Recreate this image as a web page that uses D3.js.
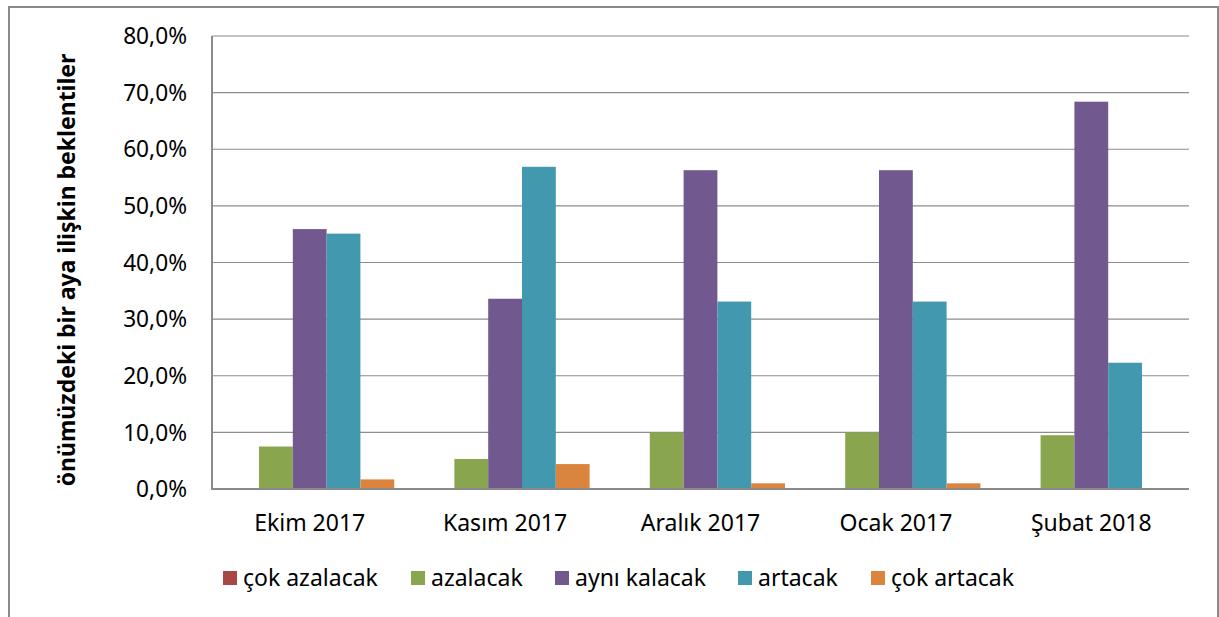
<!DOCTYPE html>
<html>
<head>
<meta charset="utf-8">
<script src="https://cdn.jsdelivr.net/npm/d3@7"></script>
<style>
  html, body { margin: 0; padding: 0; background: #fff; }
  svg { display: block; }
  text { font-family: "Noto Sans", "Open Sans", sans-serif; fill: #000; }
</style>
</head>
<body>
<script>
const categories = ["Ekim 2017", "Kasım 2017", "Aralık 2017", "Ocak 2017", "Şubat 2018"];
const seriesNames = ["çok azalacak", "azalacak", "aynı kalacak", "artacak", "çok artacak"];
const cokAzalacak = [0, 0, 0, 0, 0];
const azalacak = [7.5, 5.3, 10.0, 10.0, 9.5];
const ayniKalacak = [45.9, 33.6, 56.3, 56.3, 68.4];
const artacak = [45.1, 56.9, 33.1, 33.1, 22.3];
const cokArtacak = [1.7, 4.4, 1.0, 1.0, 0];
const yTicks = [0, 10, 20, 30, 40, 50, 60, 70, 80];
const yTitle = "önümüzdeki bir aya ilişkin beklentiler";
const colors = ["#AA4643", "#89A54E", "#71588F", "#4198AF", "#DB843D"];

const seriesValues = [cokAzalacak, azalacak, ayniKalacak, artacak, cokArtacak];

const W = 1219, H = 617;
const svg = d3.select("body").append("svg").attr("width", W).attr("height", H);

// outer frame
svg.append("rect").attr("x", 9).attr("y", 7).attr("width", 1209).attr("height", 640)
  .attr("fill", "#fff").attr("stroke", "#8a8a8a").attr("stroke-width", 2);

const plot = { left: 212, right: 1189, top: 36, bottom: 489 };

const x0 = d3.scaleBand().domain(categories).range([plot.left, plot.right])
  .paddingInner(0.135).paddingOuter(0.0675);
const x1 = d3.scaleBand().domain(seriesNames).range([0, x0.bandwidth()]);
const y = d3.scaleLinear().domain([0, 80]).range([plot.bottom, plot.top]);

// gridlines
svg.append("g").selectAll("line").data(yTicks.filter(d => d > 0)).join("line")
  .attr("x1", plot.left).attr("x2", plot.right)
  .attr("y1", d => y(d)).attr("y2", d => y(d))
  .attr("stroke", "#8c8c8c").attr("stroke-width", 1.2);

// y tick labels
const fmt = d => d3.format(".1f")(d).replace(".", ",") + "%";
svg.append("g").selectAll("text").data(yTicks).join("text")
  .attr("x", 187).attr("y", d => y(d)).attr("dy", "0.36em")
  .attr("text-anchor", "end").style("font-size", "22.7px")
  .text(fmt);

// bars
const rows = categories.map((c, i) => ({ cat: c, vals: seriesNames.map((s, j) => ({ s, j, v: seriesValues[j][i] })) }));
svg.append("g").selectAll("g").data(rows).join("g")
  .attr("transform", d => `translate(${x0(d.cat)},0)`)
  .selectAll("rect").data(d => d.vals.filter(e => e.v > 0)).join("rect")
  .attr("x", d => x1(d.s)).attr("width", x1.bandwidth())
  .attr("y", d => y(d.v)).attr("height", d => y(0) - y(d.v))
  .attr("fill", d => colors[d.j]);

// axes lines
svg.append("line").attr("x1", plot.left).attr("x2", plot.left).attr("y1", plot.top).attr("y2", plot.bottom)
  .attr("stroke", "#8a8a8a").attr("stroke-width", 2);
svg.append("line").attr("x1", plot.left - 1).attr("x2", plot.right).attr("y1", plot.bottom).attr("y2", plot.bottom)
  .attr("stroke", "#8a8a8a").attr("stroke-width", 2);

// category labels
svg.append("g").selectAll("text").data(categories).join("text")
  .attr("x", d => x0(d) + x0.bandwidth() / 2).attr("y", 531)
  .attr("text-anchor", "middle").style("font-size", "23px")
  .text(d => d);

// y title
svg.append("text")
  .attr("transform", "translate(75,270) rotate(-90)")
  .attr("text-anchor", "middle").style("font-size", "23px").style("font-weight", "bold")
  .text(yTitle);

// legend
const legendX = [223, 411, 555, 738, 871];
const lg = svg.append("g").selectAll("g").data(seriesNames).join("g")
  .attr("transform", (d, i) => `translate(${legendX[i]},571)`);
lg.append("rect").attr("width", 14).attr("height", 14).attr("fill", (d, i) => colors[i]);
lg.append("text").attr("x", 20).attr("y", 7).attr("dy", "0.36em").style("font-size", "23px").text(d => d);
</script>
</body>
</html>
